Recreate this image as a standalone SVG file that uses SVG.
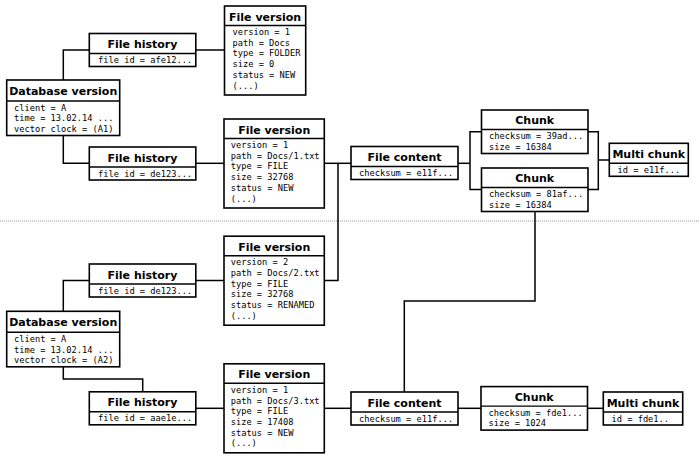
<svg xmlns="http://www.w3.org/2000/svg" width="700" height="458" viewBox="0 0 700 458">
<style>
.bx{fill:#fff;stroke:#000;stroke-width:1.6}
.sp{stroke:#000;stroke-width:1.4}
.t{font-family:"DejaVu Sans",sans-serif;font-weight:bold;font-size:11px;text-anchor:middle;fill:#000}
.c{font-family:"DejaVu Sans Mono",monospace;font-size:8.7px;fill:#000}
.cn{fill:none;stroke:#000;stroke-width:1.5}
.dot{stroke:#999;stroke-width:1;stroke-dasharray:1 1}
</style>
<rect width="700" height="458" fill="#fff"/>
<line class="dot" x1="0" y1="221" x2="700" y2="221"/>
<g id="connectors">
<path class="cn" d="M89.3,50 H63.3 V80"/>
<path class="cn" d="M63.3,135.5 V163.3 H89.3"/>
<path class="cn" d="M195.8,50 H224.5"/>
<path class="cn" d="M195.8,163.3 H224"/>
<path class="cn" d="M324.3,163.3 H351"/>
<path class="cn" d="M324.3,280.5 H338 V163.3"/>
<path class="cn" d="M458,163.3 H470"/>
<path class="cn" d="M481.5,131.7 H470 V189.5 H481.5"/>
<path class="cn" d="M588,131.7 H598.3 V189.5 H588"/>
<path class="cn" d="M598.3,160 H609.3"/>
<path class="cn" d="M535,211.5 V301 H404.3 V392"/>
<path class="cn" d="M89.3,280.5 H63.3 V311.3"/>
<path class="cn" d="M63.3,366.8 V379 H142.7 V391.8"/>
<path class="cn" d="M195.8,280.5 H224"/>
<path class="cn" d="M195.8,408.3 H224"/>
<path class="cn" d="M324.3,408.3 H351"/>
<path class="cn" d="M458,408.3 H481"/>
<path class="cn" d="M587.5,408.3 H603.3"/>
</g>
<g id="db1">
<rect class="bx" x="6.7" y="80" width="113" height="55.5"/>
<line class="sp" x1="6.7" y1="101" x2="119.7" y2="101"/>
<text class="t" x="63.2" y="94.5">Database version</text>
<text class="c" x="14" y="110.5">client = A</text>
<text class="c" x="14" y="121.2">time = 13.02.14 ...</text>
<text class="c" x="14" y="131.9">vector clock = (A1)</text>
</g>
<g id="fh1">
<rect class="bx" x="89.3" y="33.5" width="106.5" height="33"/>
<line class="sp" x1="89.3" y1="53.5" x2="195.8" y2="53.5"/>
<text class="t" x="142.5" y="48">File history</text>
<text class="c" x="98" y="63">file id = afe12...</text>
</g>
<g id="fv1">
<rect class="bx" x="224.5" y="6" width="81.2" height="89"/>
<line class="sp" x1="224.5" y1="25.5" x2="305.7" y2="25.5"/>
<text class="t" x="265.1" y="20.5">File version</text>
<text class="c" x="232.5" y="35">version = 1</text>
<text class="c" x="232.5" y="45.7">path = Docs</text>
<text class="c" x="232.5" y="56.4">type = FOLDER</text>
<text class="c" x="232.5" y="67.1">size = 0</text>
<text class="c" x="232.5" y="77.8">status = NEW</text>
<text class="c" x="232.5" y="88.5">(...)</text>
</g>
<g id="fh2">
<rect class="bx" x="89.3" y="147" width="106.5" height="33"/>
<line class="sp" x1="89.3" y1="167" x2="195.8" y2="167"/>
<text class="t" x="142.5" y="161.5">File history</text>
<text class="c" x="98" y="176.5">file id = de123...</text>
</g>
<g id="fv2">
<rect class="bx" x="224" y="119" width="100.3" height="89"/>
<line class="sp" x1="224" y1="138.5" x2="324.3" y2="138.5"/>
<text class="t" x="274.2" y="133.5">File version</text>
<text class="c" x="230.7" y="148">version = 1</text>
<text class="c" x="230.7" y="158.7">path = Docs/1.txt</text>
<text class="c" x="230.7" y="169.4">type = FILE</text>
<text class="c" x="230.7" y="180.1">size = 32768</text>
<text class="c" x="230.7" y="190.8">status = NEW</text>
<text class="c" x="230.7" y="201.5">(...)</text>
</g>
<g id="fc1">
<rect class="bx" x="351" y="146.5" width="107" height="33"/>
<line class="sp" x1="351" y1="166.5" x2="458" y2="166.5"/>
<text class="t" x="404.5" y="161">File content</text>
<text class="c" x="359" y="176">checksum = e11f...</text>
</g>
<g id="chunk1">
<rect class="bx" x="481.5" y="110" width="106.5" height="43.5"/>
<line class="sp" x1="481.5" y1="129.5" x2="588" y2="129.5"/>
<text class="t" x="534.7" y="124">Chunk</text>
<text class="c" x="489" y="139">checksum = 39ad...</text>
<text class="c" x="489" y="149.7">size = 16384</text>
</g>
<g id="chunk2">
<rect class="bx" x="481.5" y="168" width="106.5" height="43.5"/>
<line class="sp" x1="481.5" y1="187.5" x2="588" y2="187.5"/>
<text class="t" x="534.7" y="182">Chunk</text>
<text class="c" x="489" y="197">checksum = 81af...</text>
<text class="c" x="489" y="207.7">size = 16384</text>
</g>
<g id="mc1">
<rect class="bx" x="609.3" y="143.3" width="79" height="33"/>
<line class="sp" x1="609.3" y1="163.3" x2="688.3" y2="163.3"/>
<text class="t" x="648.8" y="157.8">Multi chunk</text>
<text class="c" x="617.5" y="172.8">id = e11f...</text>
</g>
<g id="fv3">
<rect class="bx" x="224" y="236.2" width="100.3" height="89"/>
<line class="sp" x1="224" y1="255.7" x2="324.3" y2="255.7"/>
<text class="t" x="274.2" y="250.7">File version</text>
<text class="c" x="230.7" y="265.2">version = 2</text>
<text class="c" x="230.7" y="275.9">path = Docs/2.txt</text>
<text class="c" x="230.7" y="286.6">type = FILE</text>
<text class="c" x="230.7" y="297.3">size = 32768</text>
<text class="c" x="230.7" y="308">status = RENAMED</text>
<text class="c" x="230.7" y="318.7">(...)</text>
</g>
<g id="fh3">
<rect class="bx" x="89.3" y="264" width="106.5" height="33"/>
<line class="sp" x1="89.3" y1="284" x2="195.8" y2="284"/>
<text class="t" x="142.5" y="278.5">File history</text>
<text class="c" x="98" y="293.5">file id = de123...</text>
</g>
<g id="db2">
<rect class="bx" x="6.7" y="311.3" width="113" height="55.5"/>
<line class="sp" x1="6.7" y1="332.3" x2="119.7" y2="332.3"/>
<text class="t" x="63.2" y="325.8">Database version</text>
<text class="c" x="14" y="341.8">client = A</text>
<text class="c" x="14" y="352.5">time = 13.02.14 ...</text>
<text class="c" x="14" y="363.2">vector clock = (A2)</text>
</g>
<g id="fh4">
<rect class="bx" x="89.3" y="391.8" width="106.5" height="33"/>
<line class="sp" x1="89.3" y1="411.8" x2="195.8" y2="411.8"/>
<text class="t" x="142.5" y="406.3">File history</text>
<text class="c" x="98" y="421.3">file id = aae1e...</text>
</g>
<g id="fv4">
<rect class="bx" x="224" y="363.8" width="100.3" height="89"/>
<line class="sp" x1="224" y1="383.3" x2="324.3" y2="383.3"/>
<text class="t" x="274.2" y="378.3">File version</text>
<text class="c" x="230.7" y="392.8">version = 1</text>
<text class="c" x="230.7" y="403.5">path = Docs/3.txt</text>
<text class="c" x="230.7" y="414.2">type = FILE</text>
<text class="c" x="230.7" y="424.9">size = 17408</text>
<text class="c" x="230.7" y="435.6">status = NEW</text>
<text class="c" x="230.7" y="446.3">(...)</text>
</g>
<g id="fc2">
<rect class="bx" x="351" y="392" width="107" height="33"/>
<line class="sp" x1="351" y1="412" x2="458" y2="412"/>
<text class="t" x="404.5" y="406.5">File content</text>
<text class="c" x="359" y="421.5">checksum = e11f...</text>
</g>
<g id="chunk3">
<rect class="bx" x="481" y="386.6" width="106.5" height="43.5"/>
<line class="sp" x1="481" y1="406.1" x2="587.5" y2="406.1"/>
<text class="t" x="534.2" y="400.6">Chunk</text>
<text class="c" x="488.5" y="415.6">checksum = fde1...</text>
<text class="c" x="488.5" y="426.3">size = 1024</text>
</g>
<g id="mc2">
<rect class="bx" x="603.3" y="392" width="79.4" height="33"/>
<line class="sp" x1="603.3" y1="412" x2="682.7" y2="412"/>
<text class="t" x="643" y="406.5">Multi chunk</text>
<text class="c" x="611.5" y="421.5">id = fde1..</text>
</g>
</svg>
